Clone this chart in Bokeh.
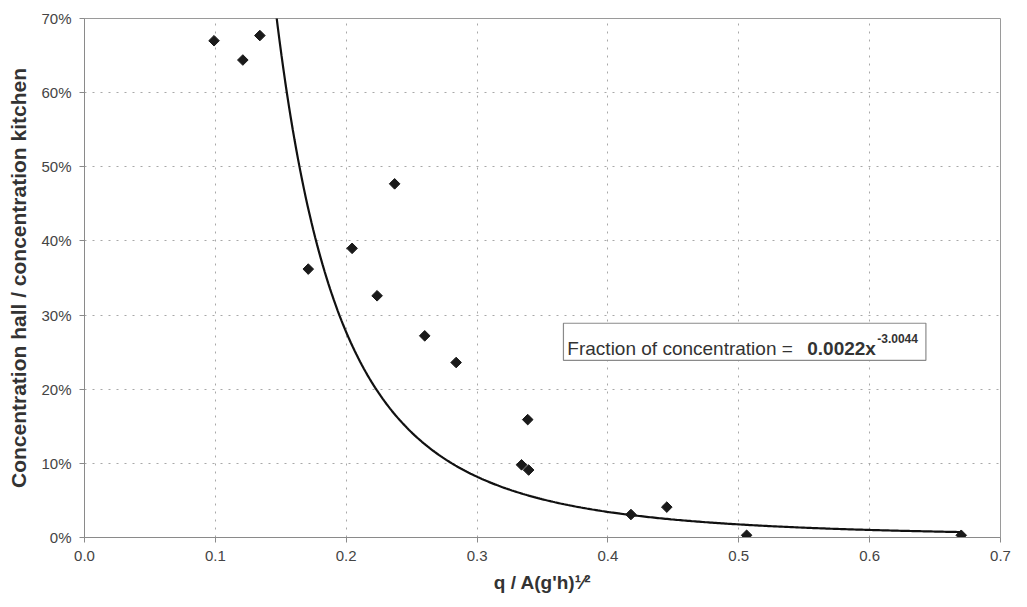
import numpy as np
from bokeh.plotting import figure
from bokeh.models import Range1d, NumeralTickFormatter, FixedTicker, Label
from bokeh.embed import file_html
from bokeh.resources import INLINE

# Measured data (x = q / A(g'h)^1/2, y = concentration ratio)
x_vals = [0.099, 0.121, 0.134, 0.171, 0.2045, 0.237, 0.2236, 0.260, 0.284,
          0.3387, 0.334, 0.3394, 0.4176, 0.445, 0.506, 0.670]
y_vals = [0.670, 0.644, 0.677, 0.362, 0.390, 0.477, 0.326, 0.272, 0.236,
          0.159, 0.098, 0.091, 0.031, 0.041, 0.003, 0.003]

# Power trendline shown in the chart: y = 0.0022 x^-3.0044
trend_coef = 0.0022
trend_exp = -3.0044

x_ticks = [0.0, 0.1, 0.2, 0.3, 0.4, 0.5, 0.6, 0.7]
y_ticks = [0.0, 0.1, 0.2, 0.3, 0.4, 0.5, 0.6, 0.7]

FONT = "Liberation Sans"

p = figure(width=1027, height=607, output_backend="svg", toolbar_location=None,
           x_range=Range1d(0, 0.7), y_range=Range1d(0, 0.7))
p.min_border_left = 84
p.min_border_right = 27
p.min_border_top = 18
p.min_border_bottom = 70
p.background_fill_color = "white"
p.border_fill_color = "white"
p.outline_line_color = "#9a9a9a"
p.outline_line_width = 1

p.xaxis.ticker = FixedTicker(ticks=x_ticks)
p.yaxis.ticker = FixedTicker(ticks=y_ticks)
p.xaxis.formatter = NumeralTickFormatter(format="0.0")
p.yaxis.formatter = NumeralTickFormatter(format="0%")

for ax in (p.xaxis[0], p.yaxis[0]):
    ax.major_label_text_font = FONT
    ax.major_label_text_font_size = "15px"
    ax.major_label_text_color = "#444444"
    ax.axis_line_color = "#8a8a8a"
    ax.major_tick_line_color = "#8a8a8a"
    ax.minor_tick_line_color = None
    ax.major_tick_out = 5
    ax.major_tick_in = 0
    ax.major_label_standoff = 8
    ax.axis_label_text_font = FONT
    ax.axis_label_text_font_style = "bold"
    ax.axis_label_text_color = "#333333"

p.yaxis.axis_label = "Concentration hall / concentration kitchen"
p.yaxis.axis_label_text_font_size = "21px"
p.yaxis.axis_label_standoff = 8

p.xaxis.axis_label = "q / A(g'h)\u00b9\u2044\u00b2"
p.xaxis.axis_label_text_font_size = "19px"
p.xaxis.axis_label_standoff = 8

p.grid.grid_line_color = "#a8a8a8"
p.grid.grid_line_dash = "2 6"
p.grid.grid_line_width = 1

# Trendline
cx = np.linspace(min(x_vals), max(x_vals), 400)
cy = trend_coef * cx ** trend_exp
p.line(cx, cy, line_color="#111111", line_width=2.2)

# Data points (diamonds = squares rotated 45 degrees)
p.scatter(x_vals, y_vals, marker="square", angle=np.pi / 4, size=7.5,
          fill_color="#1a1a1a", line_color="#1a1a1a")

# Equation box
p.quad(left=[0.366], right=[0.643], bottom=[0.239], top=[0.289],
       fill_color="white", line_color="#8a8a8a", line_width=1.2)
p.add_layout(Label(x=0.369, y=0.2555, text="Fraction of concentration = ",
                   text_font=FONT, text_font_size="19px", text_color="#333333",
                   text_baseline="alphabetic"))
p.add_layout(Label(x=0.5523, y=0.2555, text="0.0022x",
                   text_font=FONT, text_font_size="19px", text_font_style="bold",
                   text_color="#333333", text_baseline="alphabetic"))
p.add_layout(Label(x=0.6058, y=0.2685, text="-3.0044",
                   text_font=FONT, text_font_size="12px", text_font_style="bold",
                   text_color="#333333", text_baseline="alphabetic"))

open("out.html", "w").write(file_html(p, INLINE))
